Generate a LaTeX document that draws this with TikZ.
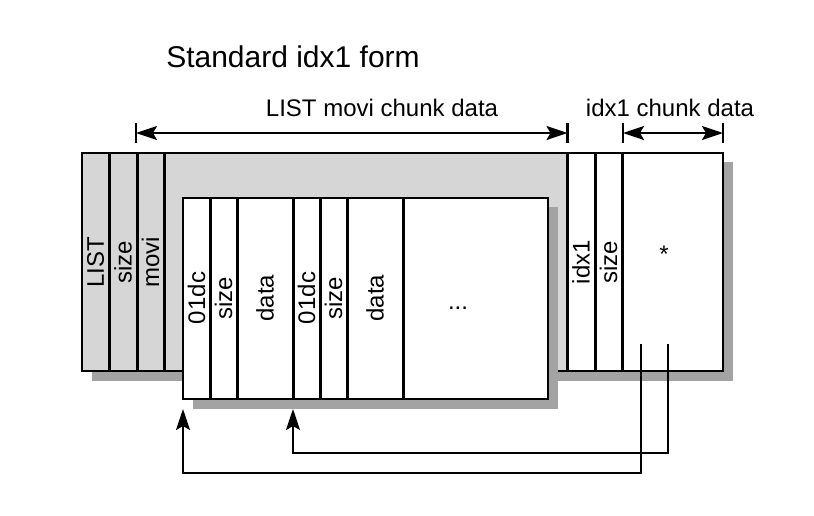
\documentclass[tikz,border=0pt]{standalone}
\usepackage{fontspec}
\setmainfont{Liberation Sans}
\usetikzlibrary{arrows.meta}
\definecolor{boxgrey}{HTML}{D6D6D6}
\definecolor{shadegrey}{HTML}{A3A3A3}
\tikzset{
  border/.style={draw=black, line width=2.5pt},
  divider/.style={draw=black, line width=3pt},
  shade/.style={fill=shadegrey},
  lbl/.style={font=\fontsize{24}{28}\selectfont, inner sep=0pt},
  vlbl/.style={lbl, rotate=90, anchor=center},
  titlelbl/.style={font=\fontsize{30}{36}\selectfont, inner sep=0pt, anchor=base},
  dimline/.style={line width=2.2pt, {Stealth[length=21pt,width=14pt,inset=4pt]}-{Stealth[length=21pt,width=14pt,inset=4pt]}},
  tick/.style={line width=2.2pt},
  link/.style={line width=2.2pt, -{Stealth[length=21pt,width=14pt,inset=4pt]}}
}
\begin{document}
\begin{tikzpicture}[x=1pt,y=-1pt]
\useasboundingbox (0,0) rectangle (814,515);
% title
\node[titlelbl] (title) at (293,67) {Standard idx1 form};
% outer box
\fill[shade] (91.5,162) rectangle (732.5,381);
\fill[boxgrey] (82,153) rectangle (567,371);
\fill[white] (567,153) rectangle (723,371);
\foreach \x in {109,137,164,567,595,622}
  \draw[divider] (\x,153) -- (\x,371);
\draw[border] (82,153) rectangle (723,371);
% inner box
\fill[shade] (192.5,207) rectangle (558,408.5);
\fill[white] (183,198) rectangle (548,399);
\foreach \x in {210,237,293,320,347,403}
  \draw[divider] (\x,198) -- (\x,399);
\draw[border] (183,198) rectangle (548,399);
% labels in outer box
\node[vlbl] (l1) at (95.5,262) {LIST};
\node[vlbl] (l2) at (123,262) {size};
\node[vlbl] (l3) at (150.5,262) {movi};
\node[vlbl] (r1) at (581,262) {idx1};
\node[vlbl] (r2) at (608.5,262) {size};
\node[lbl, anchor=base] (star) at (664,262) {*};
% labels in inner box
\node[vlbl] (c1) at (196.5,298) {01dc};
\node[vlbl] (c2) at (223.5,298) {size};
\node[vlbl] (c3) at (265,298) {data};
\node[vlbl] (c4) at (306.5,298) {01dc};
\node[vlbl] (c5) at (333.5,298) {size};
\node[vlbl] (c6) at (375,298) {data};
\node[lbl, anchor=base] (dots) at (458,309) {...};
% dimension lines
\coordinate (a1) at (136,133);
\coordinate (a2) at (567.5,133);
\coordinate (b1) at (623,133);
\coordinate (b2) at (723,133);
\foreach \p in {a1,a2,b1,b2}
  \draw[tick] ([yshift=-10pt]\p) -- ([yshift=10pt]\p);
\draw[dimline] (a1) -- (a2);
\draw[dimline] (b1) -- (b2);
\node[lbl, anchor=base] (movilbl) at (382,116) {LIST movi chunk data};
\node[lbl, anchor=base] (idxlbl) at (670,116) {idx1 chunk data};
% index links
\coordinate (s1) at (641,344);
\coordinate (s2) at (668,344);
\coordinate (t1) at (183,409);
\coordinate (t2) at (293,409);
\draw[link] (s1) -- (641,473) -- (183,473) -- (t1);
\draw[link] (s2) -- (668,453) -- (293,453) -- (t2);
\end{tikzpicture}
\end{document}
